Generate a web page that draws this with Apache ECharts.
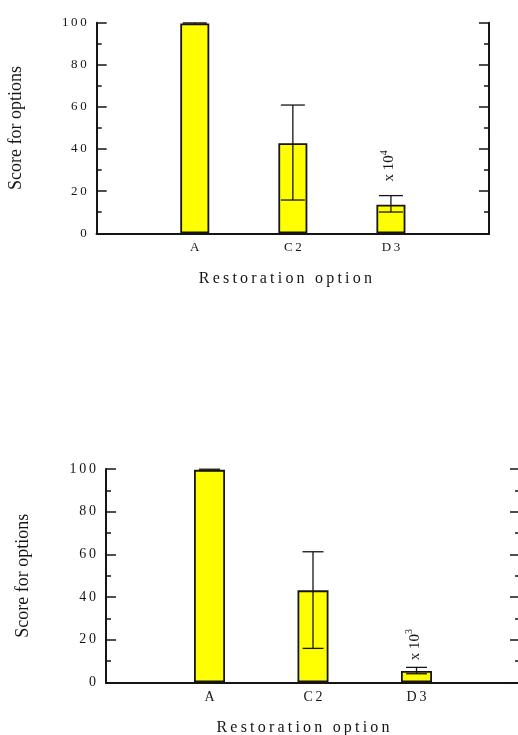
<!DOCTYPE html>
<html><head><meta charset="utf-8">
<script src="https://cdn.jsdelivr.net/npm/echarts@6/dist/echarts.min.js"></script>
<style>html,body{margin:0;padding:0;background:#fff}#c{width:518px;height:735px}</style>
</head><body><div id="c"></div>
<script>
// ---- data ----
const categories = ['A', 'C2', 'D3'];
const yTicks = [0, 20, 40, 60, 80, 100];
const topScores = [99.6, 42.8, 13.6];
const topErrLow = [99.3, 15.8, 10.1];
const topErrHigh = [99.9, 60.9, 17.9];
const topMultiplierExp = '4';
const bottomScores = [99.6, 43.1, 5.3];
const bottomErrLow = [99.3, 15.9, 4.0];
const bottomErrHigh = [99.9, 61.2, 7.0];
const bottomMultiplierExp = '3';
const xTitle = 'Restoration option';
const yTitle = 'Score for options';

// ---- helpers ----
const FONT = '"Liberation Serif", "DejaVu Serif", serif';
const INK = '#151515';
const spaced = (s, sp) => String(s).split('').join(sp);
const axisCats = [''].concat(categories, ['']);
const padArr = a => [null].concat(a, [null]);

const panels = [
  { grid: { left: 96.7, top: 22.7, width: 392.3, height: 210.6 },
    scores: topScores, lo: topErrLow, hi: topErrHigh, exp: topMultiplierExp,
    barW: 29, cap: 12, labelSize: 13, labelGap: 8, annGap: 14, yNameGap: 71, tickFont: 13, titlePad: 15 },
  { grid: { left: 106, top: 469, width: 414, height: 213.3 },
    scores: bottomScores, lo: bottomErrLow, hi: bottomErrHigh, exp: bottomMultiplierExp,
    barW: 31, cap: 10.5, labelSize: 14, labelGap: 8, annGap: 7, yNameGap: 74, tickFont: 14, titlePad: 20 }
];

const option = { animation: false, backgroundColor: '#fff', grid: [], xAxis: [], yAxis: [], series: [] };

panels.forEach((p, i) => {
  option.grid.push(Object.assign({ show: false, containLabel: false, outerBoundsMode: 'none' }, p.grid));
  const line = { show: true, lineStyle: { color: INK, width: 2 } };
  // bottom x axis
  option.xAxis.push({
    type: 'category', gridIndex: i, data: axisCats, boundaryGap: false, position: 'bottom',
    axisLine: line, axisTick: { show: false },
    axisLabel: { color: INK, fontFamily: FONT, fontSize: p.labelSize, margin: p.labelGap,
      formatter: v => spaced(v, '\u2009') },
    name: spaced(xTitle, '\u2009'), nameLocation: 'middle', nameGap: 37,
    nameTextStyle: { color: INK, fontFamily: FONT, fontSize: 16, padding: [0, p.titlePad, 0, 0] }
  });
  // top x axis (frame)
  option.xAxis.push({
    type: 'category', gridIndex: i, data: axisCats, boundaryGap: false, position: 'top',
    axisLine: line, axisTick: { show: false }, axisLabel: { show: false }
  });
  const yBase = {
    type: 'value', gridIndex: i, min: yTicks[0], max: yTicks[yTicks.length - 1],
    interval: yTicks[1] - yTicks[0], splitLine: { show: false },
    axisLine: line,
    axisTick: { show: true, inside: true, length: 10, lineStyle: { color: INK, width: 1.5 } },
    minorTick: { show: true, splitNumber: 2, length: 5, lineStyle: { color: INK, width: 1.5 } }
  };
  option.yAxis.push(Object.assign({}, yBase, {
    position: 'left',
    axisLabel: { color: INK, fontFamily: FONT, fontSize: p.tickFont, margin: 10,
      formatter: v => spaced(v, '\u2009') },
    name: yTitle, nameLocation: 'middle', nameGap: p.yNameGap,
    nameTextStyle: { color: INK, fontFamily: FONT, fontSize: 18 }
  }));
  option.yAxis.push(Object.assign({}, yBase, { position: 'right', axisLabel: { show: false } }));

  const xi = i * 2, yi = i * 2;
  option.series.push({
    type: 'bar', xAxisIndex: xi, yAxisIndex: yi, data: padArr(p.scores), barWidth: p.barW,
    itemStyle: { color: '#ffff00', borderColor: INK, borderWidth: 1.8 }, z: 2
  });
  const errData = categories.map((c, k) => [k + 1, p.lo[k], p.hi[k]]);
  option.series.push({
    type: 'custom', xAxisIndex: xi, yAxisIndex: yi, data: errData, z: 5,
    encode: { x: 0, y: [1, 2] },
    renderItem: (params, api) => {
      const x = api.value(0);
      const a = api.coord([x, api.value(1)]);
      const b = api.coord([x, api.value(2)]);
      const st = { stroke: INK, lineWidth: 1.3 };
      return { type: 'group', children: [
        { type: 'line', shape: { x1: a[0], y1: a[1], x2: b[0], y2: b[1] }, style: st },
        { type: 'line', shape: { x1: a[0] - p.cap, y1: a[1], x2: a[0] + p.cap, y2: a[1] }, style: st },
        { type: 'line', shape: { x1: b[0] - p.cap, y1: b[1], x2: b[0] + p.cap, y2: b[1] }, style: st }
      ] };
    }
  });
  // multiplier annotation above last error bar
  const last = categories.length - 1;
  option.series.push({
    type: 'custom', xAxisIndex: xi, yAxisIndex: yi, data: [[last + 1, p.hi[last]]], z: 6,
    renderItem: (params, api) => {
      const c = api.coord([api.value(0), api.value(1)]);
      return { type: 'text', x: c[0] - 3, y: c[1] - p.annGap, rotation: Math.PI / 2,
        style: { text: '{n|x 10}{s|' + p.exp + '}', align: 'left', verticalAlign: 'middle',
          fill: INK, fontFamily: FONT,
          rich: { n: { fontSize: 15, fontFamily: FONT, fill: INK, lineHeight: 18, verticalAlign: 'bottom' },
                  s: { fontSize: 10, fontFamily: FONT, fill: INK, lineHeight: 18, verticalAlign: 'top' } } } };
    }
  });
});

const chart = echarts.init(document.getElementById('c'), null, { renderer: 'canvas' });
chart.setOption(option);
</script></body></html>
